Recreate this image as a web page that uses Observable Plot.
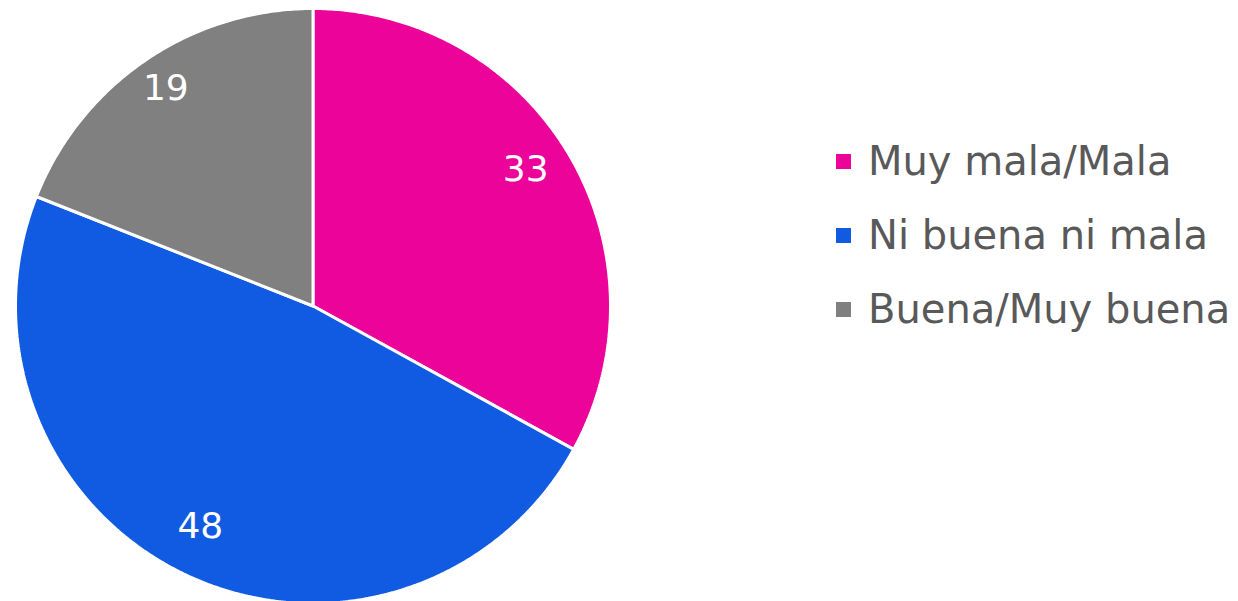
<!DOCTYPE html>
<html>
<head>
<meta charset="utf-8">
<script src="https://cdn.jsdelivr.net/npm/d3@7"></script>
<script src="https://cdn.jsdelivr.net/npm/@observablehq/plot@0.6"></script>
<style>
  html, body { margin: 0; padding: 0; background: #fff; }
  #wrap { position: relative; width: 1238px; height: 601px; overflow: hidden; font-family: "DejaVu Sans", sans-serif; }
  #chart { position: absolute; left: 0; top: 0; }
  #legend { position: absolute; left: 836px; top: 0; }
  .item { position: absolute; left: 0; display: flex; align-items: center; white-space: nowrap; color: #595959; font-size: 40px; line-height: 1; transform: translateY(-50%); }
  .sw { width: 15px; height: 15px; margin-right: 17px; flex: none; }
</style>
</head>
<body>
<div id="wrap">
  <div id="chart"></div>
  <div id="legend"></div>
</div>
<script>
// Survey answers (percent), drawn clockwise from 12 o'clock
const categories = ["Muy mala/Mala", "Ni buena ni mala", "Buena/Muy buena"];
const values = [33, 48, 19];
const colors = ["#EC0399", "#115BE3", "#808080"];

// Slice outlines in unit-circle coordinates: center, arc, back to center
const pie = d3.pie().sort(null).value(d => d.value)(
  categories.map((c, i) => ({category: c, value: values[i]}))
);
const outline = [];
for (const s of pie) {
  const cat = s.data.category;
  outline.push({cat, x: 0, y: 0});
  const steps = Math.max(2, Math.ceil((s.endAngle - s.startAngle) / (Math.PI / 360)));
  for (let k = 0; k <= steps; k++) {
    const a = s.startAngle + (s.endAngle - s.startAngle) * k / steps;
    outline.push({cat, x: Math.sin(a), y: Math.cos(a)});
  }
  outline.push({cat, x: 0, y: 0});
}

// Value labels placed along each slice's mid-angle
const labelRadius = 0.85;
const labels = pie.map(s => {
  const a = (s.startAngle + s.endAngle) / 2;
  return {text: String(s.data.value), x: labelRadius * Math.sin(a), y: labelRadius * Math.cos(a)};
});

const chart = Plot.plot({
  width: 1238,
  height: 601,
  margin: 0,
  x: {domain: [-1, 1], range: [15, 610], axis: null},
  y: {domain: [-1, 1], range: [603, 8], axis: null},
  color: {domain: categories, range: colors},
  style: {fontFamily: "DejaVu Sans, sans-serif", background: "transparent"},
  marks: [
    Plot.line(outline, {x: "x", y: "y", z: "cat", fill: "cat", stroke: "white", strokeWidth: 3, strokeLinejoin: "miter", curve: "linear"}),
    Plot.text(labels, {x: "x", y: "y", text: "text", fill: "white", fontSize: 36, dx: -5, dy: -8})
  ]
});
document.getElementById("chart").appendChild(chart);

// Legend to the right of the pie
const legend = document.getElementById("legend");
const rowY = [161, 235, 309];
categories.forEach((c, i) => {
  const item = document.createElement("div");
  item.className = "item";
  item.style.top = rowY[i] + "px";
  const sw = document.createElement("span");
  sw.className = "sw";
  sw.style.background = colors[i];
  const label = document.createElement("span");
  label.textContent = c;
  item.appendChild(sw);
  item.appendChild(label);
  legend.appendChild(item);
});
</script>
</body>
</html>
